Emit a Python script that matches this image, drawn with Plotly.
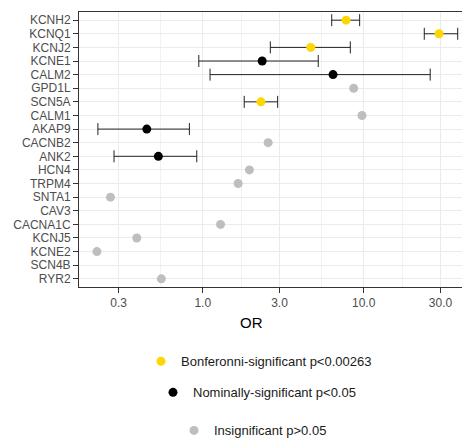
import numpy as np
import plotly.graph_objects as go

genes = ["KCNH2", "KCNQ1", "KCNJ2", "KCNE1", "CALM2", "GPD1L", "SCN5A", "CALM1",
         "AKAP9", "CACNB2", "ANK2", "HCN4", "TRPM4", "SNTA1", "CAV3", "CACNA1C",
         "KCNJ5", "KCNE2", "SCN4B", "RYR2"]

# Bonferroni-significant
bonf_genes = ["KCNH2", "KCNQ1", "KCNJ2", "SCN5A"]
bonf_or = [7.77, 29.4, 4.69, 2.30]
bonf_lo = [6.33, 23.8, 2.63, 1.81]
bonf_hi = [9.44, 38.4, 8.26, 2.92]

# Nominally significant
nom_genes = ["KCNE1", "CALM2", "AKAP9", "ANK2"]
nom_or = [2.34, 6.45, 0.449, 0.530]
nom_lo = [0.945, 1.11, 0.223, 0.281]
nom_hi = [5.22, 25.9, 0.826, 0.918]

# Insignificant
ins_genes = ["GPD1L", "CALM1", "CACNB2", "HCN4", "TRPM4", "SNTA1", "CACNA1C",
             "KCNJ5", "KCNE2", "RYR2"]
ins_or = [8.67, 9.76, 2.55, 1.95, 1.66, 0.267, 1.29, 0.389, 0.220, 0.553]

x_ticks = [0.3, 1.0, 3.0, 10.0, 30.0]
x_ticklabels = ["0.3", "1.0", "3.0", "10.0", "30.0"]

legend_names = ["Bonferonni-significant p<0.00263",
                "Nominally-significant p<0.05",
                "Insignificant p>0.05"]

GOLD = "#FFD700"
BLACK = "#000000"
GREY = "#BEBEBE"
FONT = "Liberation Sans, Arial, sans-serif"

fig = go.Figure()

def err(orv, lo, hi):
    o = np.array(orv); l = np.array(lo); h = np.array(hi)
    return dict(type="data", symmetric=False, array=h - o, arrayminus=o - l,
                color="#222222", thickness=1, width=6)

fig.add_trace(go.Scatter(x=bonf_or, y=bonf_genes, mode="markers",
                         marker=dict(color=GOLD, size=9),
                         error_x=err(bonf_or, bonf_lo, bonf_hi),
                         name=legend_names[0], legend="legend"))
fig.add_trace(go.Scatter(x=nom_or, y=nom_genes, mode="markers",
                         marker=dict(color=BLACK, size=9),
                         error_x=err(nom_or, nom_lo, nom_hi),
                         name=legend_names[1], legend="legend2"))
fig.add_trace(go.Scatter(x=ins_or, y=ins_genes, mode="markers",
                         marker=dict(color=GREY, size=9),
                         name=legend_names[2], legend="legend3"))

lt = np.log10(x_ticks)
minor_vals = list(10 ** ((lt[:-1] + lt[1:]) / 2)) + [10 ** (lt[0] - (lt[1] - lt[0]) / 2)]

leg_common = dict(font=dict(family=FONT, size=13, color="#1a1a1a"),
                  bgcolor="rgba(0,0,0,0)", xanchor="left", yanchor="middle",
                  itemsizing="trace")

def px_x(p):
    return (p - 79) / 383

def px_y(p):
    return (286.7 - p) / 274.7

fig.update_layout(
    width=462, height=440,
    margin=dict(l=79, r=0, t=12, b=153, autoexpand=False),
    paper_bgcolor="white", plot_bgcolor="white",
    font=dict(family=FONT),
    showlegend=True,
    legend=dict(x=px_x(141), y=px_y(361), **leg_common),
    legend2=dict(x=px_x(153), y=px_y(392), **leg_common),
    legend3=dict(x=px_x(174), y=px_y(430), **leg_common),
    xaxis=dict(type="log", range=[-0.769, 1.611], automargin=False,
               tickvals=x_ticks, ticktext=x_ticklabels,
               tickfont=dict(family=FONT, size=12, color="#4D4D4D"),
               ticks="outside", ticklen=5, tickcolor="#333333",
               showgrid=True, gridcolor="#EBEBEB", gridwidth=1,
               minor=dict(tickvals=minor_vals, showgrid=True,
                          gridcolor="#F2F2F2", gridwidth=1, ticks=""),
               showline=True, linecolor="#333333", linewidth=1, mirror=True,
               zeroline=False),
    yaxis=dict(type="category", categoryorder="array", categoryarray=genes,
               tickmode="array", tickvals=genes, ticktext=genes, automargin=False,
               range=[len(genes) - 0.4, -0.6],
               tickfont=dict(family=FONT, size=12, color="#4D4D4D"),
               ticks="outside", ticklen=5, tickcolor="#333333",
               showgrid=True, gridcolor="#EBEBEB", gridwidth=1,
               showline=True, linecolor="#333333", linewidth=1, mirror=True,
               zeroline=False),
    annotations=[dict(text="OR", x=px_x(251.7), y=px_y(321.7),
                      xref="paper", yref="paper", showarrow=False,
                      xanchor="center", yanchor="middle",
                      font=dict(family=FONT, size=15, color="#000000"))],
)

fig.write_html("out.html", config={"displayModeBar": False},
               post_script="document.body.style.margin='0px';document.body.style.padding='0px';")
